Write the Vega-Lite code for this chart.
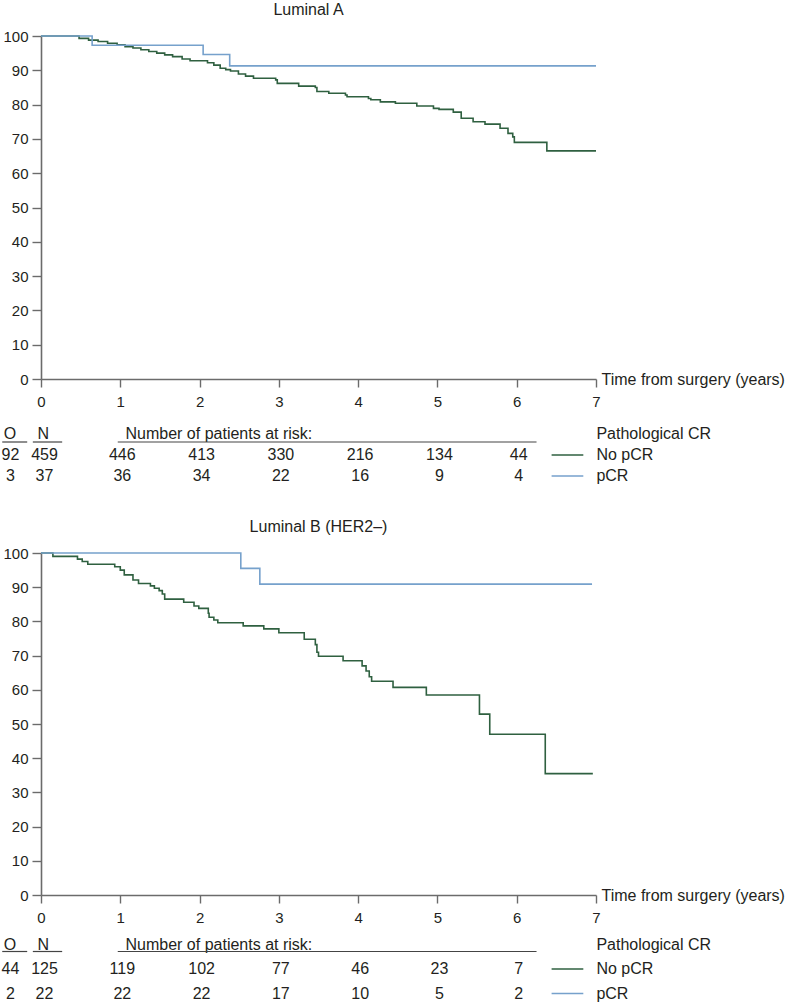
{
  "$schema": "https://vega.github.io/schema/vega-lite/v6.json",
  "padding": {"left": 1, "top": 2, "right": 0, "bottom": 0},
  "spacing": 30,
  "bounds": "flush",
  "config": {
    "view": {"stroke": null},
    "font": "Liberation Sans",
    "text": {"font": "Liberation Sans", "fontSize": 16, "color": "#231f20"},
    "axis": {
      "grid": false,
      "domainColor": "#6b6b6b",
      "domainWidth": 1.6,
      "tickColor": "#6b6b6b",
      "tickWidth": 1.4,
      "labelFont": "Liberation Sans",
      "labelFontSize": 15,
      "labelColor": "#231f20",
      "labelFlush": false,
      "titleFont": "Liberation Sans",
      "titleFontSize": 16,
      "titleFontWeight": "normal",
      "titleColor": "#231f20"
    }
  },
  "datasets": {
    "kmA": [
      {"group": "No pCR", "t": 0, "s": 100},
      {"group": "No pCR", "t": 0.48, "s": 99.3},
      {"group": "No pCR", "t": 0.60, "s": 98.8},
      {"group": "No pCR", "t": 0.72, "s": 98.4},
      {"group": "No pCR", "t": 0.84, "s": 97.9},
      {"group": "No pCR", "t": 0.96, "s": 97.4},
      {"group": "No pCR", "t": 1.06, "s": 96.9},
      {"group": "No pCR", "t": 1.16, "s": 96.5},
      {"group": "No pCR", "t": 1.26, "s": 96.0},
      {"group": "No pCR", "t": 1.36, "s": 95.5},
      {"group": "No pCR", "t": 1.46, "s": 95.0},
      {"group": "No pCR", "t": 1.56, "s": 94.5},
      {"group": "No pCR", "t": 1.66, "s": 94.0},
      {"group": "No pCR", "t": 1.78, "s": 93.3},
      {"group": "No pCR", "t": 1.88, "s": 92.8},
      {"group": "No pCR", "t": 2.10, "s": 92.2},
      {"group": "No pCR", "t": 2.18, "s": 91.5},
      {"group": "No pCR", "t": 2.26, "s": 90.6},
      {"group": "No pCR", "t": 2.33, "s": 90.2},
      {"group": "No pCR", "t": 2.39, "s": 89.8},
      {"group": "No pCR", "t": 2.49, "s": 88.9},
      {"group": "No pCR", "t": 2.58, "s": 88.3},
      {"group": "No pCR", "t": 2.68, "s": 87.7},
      {"group": "No pCR", "t": 2.96, "s": 87.2},
      {"group": "No pCR", "t": 2.98, "s": 86.2},
      {"group": "No pCR", "t": 3.25, "s": 85.4},
      {"group": "No pCR", "t": 3.46, "s": 85.0},
      {"group": "No pCR", "t": 3.48, "s": 83.8},
      {"group": "No pCR", "t": 3.63, "s": 83.3},
      {"group": "No pCR", "t": 3.84, "s": 82.8},
      {"group": "No pCR", "t": 3.86, "s": 82.3},
      {"group": "No pCR", "t": 4.13, "s": 81.8},
      {"group": "No pCR", "t": 4.16, "s": 81.4},
      {"group": "No pCR", "t": 4.28, "s": 80.8},
      {"group": "No pCR", "t": 4.47, "s": 80.4},
      {"group": "No pCR", "t": 4.74, "s": 79.6},
      {"group": "No pCR", "t": 4.95, "s": 78.9},
      {"group": "No pCR", "t": 5.02, "s": 78.6},
      {"group": "No pCR", "t": 5.20, "s": 77.8},
      {"group": "No pCR", "t": 5.30, "s": 76.0},
      {"group": "No pCR", "t": 5.45, "s": 75.0},
      {"group": "No pCR", "t": 5.60, "s": 74.3},
      {"group": "No pCR", "t": 5.79, "s": 73.1},
      {"group": "No pCR", "t": 5.89, "s": 71.6},
      {"group": "No pCR", "t": 5.95, "s": 70.6},
      {"group": "No pCR", "t": 5.97, "s": 69.0},
      {"group": "No pCR", "t": 6.38, "s": 66.5},
      {"group": "No pCR", "t": 7.0, "s": 66.5},
      {"group": "pCR", "t": 0, "s": 100},
      {"group": "pCR", "t": 0.645, "s": 97.3},
      {"group": "pCR", "t": 2.045, "s": 94.6},
      {"group": "pCR", "t": 2.38, "s": 91.3},
      {"group": "pCR", "t": 7.0, "s": 91.3}
    ],
    "kmB": [
      {"group": "No pCR", "t": 0, "s": 100},
      {"group": "No pCR", "t": 0.15, "s": 99.0},
      {"group": "No pCR", "t": 0.46, "s": 98.2},
      {"group": "No pCR", "t": 0.52, "s": 97.5},
      {"group": "No pCR", "t": 0.59, "s": 96.7},
      {"group": "No pCR", "t": 0.93, "s": 96.0},
      {"group": "No pCR", "t": 1.00, "s": 95.0},
      {"group": "No pCR", "t": 1.05, "s": 93.6},
      {"group": "No pCR", "t": 1.16, "s": 92.1},
      {"group": "No pCR", "t": 1.23, "s": 91.1},
      {"group": "No pCR", "t": 1.38, "s": 90.4},
      {"group": "No pCR", "t": 1.43, "s": 89.7},
      {"group": "No pCR", "t": 1.49, "s": 89.0},
      {"group": "No pCR", "t": 1.53, "s": 88.0},
      {"group": "No pCR", "t": 1.56, "s": 86.5},
      {"group": "No pCR", "t": 1.80, "s": 85.6},
      {"group": "No pCR", "t": 1.93, "s": 84.5},
      {"group": "No pCR", "t": 1.99, "s": 83.8},
      {"group": "No pCR", "t": 2.11, "s": 82.4},
      {"group": "No pCR", "t": 2.12, "s": 81.2},
      {"group": "No pCR", "t": 2.18, "s": 80.4},
      {"group": "No pCR", "t": 2.23, "s": 79.6},
      {"group": "No pCR", "t": 2.55, "s": 78.7},
      {"group": "No pCR", "t": 2.81, "s": 77.8},
      {"group": "No pCR", "t": 3.00, "s": 76.7},
      {"group": "No pCR", "t": 3.32, "s": 74.8},
      {"group": "No pCR", "t": 3.46, "s": 73.2},
      {"group": "No pCR", "t": 3.48, "s": 71.0},
      {"group": "No pCR", "t": 3.50, "s": 69.8},
      {"group": "No pCR", "t": 3.81, "s": 68.5},
      {"group": "No pCR", "t": 4.05, "s": 67.0},
      {"group": "No pCR", "t": 4.10, "s": 65.5},
      {"group": "No pCR", "t": 4.14, "s": 63.8},
      {"group": "No pCR", "t": 4.17, "s": 62.5},
      {"group": "No pCR", "t": 4.44, "s": 60.7},
      {"group": "No pCR", "t": 4.86, "s": 58.5},
      {"group": "No pCR", "t": 5.53, "s": 52.9},
      {"group": "No pCR", "t": 5.66, "s": 47.0},
      {"group": "No pCR", "t": 6.36, "s": 35.5},
      {"group": "No pCR", "t": 6.96, "s": 35.5},
      {"group": "pCR", "t": 0, "s": 100},
      {"group": "pCR", "t": 2.52, "s": 95.5},
      {"group": "pCR", "t": 2.76, "s": 90.9},
      {"group": "pCR", "t": 6.95, "s": 90.9}
    ],
    "sumA": [
      {"group": "No pCR", "O": 92, "N": 459},
      {"group": "pCR", "O": 3, "N": 37}
    ],
    "sumB": [
      {"group": "No pCR", "O": 44, "N": 125},
      {"group": "pCR", "O": 2, "N": 22}
    ],
    "riskA": [
      {"group": "No pCR", "time": 1, "n": 446},
      {"group": "No pCR", "time": 2, "n": 413},
      {"group": "No pCR", "time": 3, "n": 330},
      {"group": "No pCR", "time": 4, "n": 216},
      {"group": "No pCR", "time": 5, "n": 134},
      {"group": "No pCR", "time": 6, "n": 44},
      {"group": "pCR", "time": 1, "n": 36},
      {"group": "pCR", "time": 2, "n": 34},
      {"group": "pCR", "time": 3, "n": 22},
      {"group": "pCR", "time": 4, "n": 16},
      {"group": "pCR", "time": 5, "n": 9},
      {"group": "pCR", "time": 6, "n": 4}
    ],
    "riskB": [
      {"group": "No pCR", "time": 1, "n": 119},
      {"group": "No pCR", "time": 2, "n": 102},
      {"group": "No pCR", "time": 3, "n": 77},
      {"group": "No pCR", "time": 4, "n": 46},
      {"group": "No pCR", "time": 5, "n": 23},
      {"group": "No pCR", "time": 6, "n": 7},
      {"group": "pCR", "time": 1, "n": 22},
      {"group": "pCR", "time": 2, "n": 22},
      {"group": "pCR", "time": 3, "n": 17},
      {"group": "pCR", "time": 4, "n": 10},
      {"group": "pCR", "time": 5, "n": 5},
      {"group": "pCR", "time": 6, "n": 2}
    ]
  },
  "vconcat": [
    {
      "title": {"text": "Luminal A", "fontSize": 16, "fontWeight": "normal", "font": "Liberation Sans", "color": "#231f20", "frame": "group", "offset": -2, "baseline": "alphabetic", "dx": -10},
      "width": 555,
      "height": 343,
      "data": {"name": "kmA"},
      "mark": {"type": "line", "interpolate": "step-after", "strokeWidth": 1.6},
      "encoding": {
        "x": {"field": "t", "type": "quantitative", "scale": {"domain": [0, 7], "nice": false, "zero": false},
              "axis": {"values": [0, 1, 2, 3, 4, 5, 6, 7], "tickSize": 8, "labelPadding": 7, "title": "Time from surgery (years)", "titleX": 560, "titleY": 0, "titleAlign": "left", "titleBaseline": "middle", "titleAngle": 0}},
        "y": {"field": "s", "type": "quantitative", "scale": {"domain": [0, 100], "nice": false},
              "axis": {"values": [0, 10, 20, 30, 40, 50, 60, 70, 80, 90, 100], "tickSize": 9, "labelPadding": 4, "title": null}},
        "color": {"field": "group", "type": "nominal", "scale": {"domain": ["No pCR", "pCR"], "range": ["#2f6040", "#76a1cc"]}, "legend": null}
      }
    },
    {
      "width": 555,
      "height": 114,
      "layer": [
        {"data": {"name": "sumA"}, "mark": {"type": "text"},
         "encoding": {"x": {"datum": -0.385, "type": "quantitative", "scale": {"domain": [0, 7], "nice": false, "zero": false}, "axis": null},
                      "y": {"field": "group", "type": "nominal", "scale": {"type": "point", "domain": ["hdr", "No pCR", "pCR"], "range": [25, 67], "padding": 0}, "axis": null},
                      "text": {"field": "O"}}},
        {"data": {"name": "sumA"}, "mark": {"type": "text"},
         "encoding": {"x": {"datum": 0.044, "type": "quantitative", "axis": null},
                      "y": {"field": "group", "type": "nominal", "axis": null},
                      "text": {"field": "N"}}},
        {"data": {"name": "riskA"}, "mark": {"type": "text", "dx": 2},
         "encoding": {"x": {"field": "time", "type": "quantitative", "axis": null},
                      "y": {"field": "group", "type": "nominal", "axis": null},
                      "text": {"field": "n"}}},
        {"data": {"values": [{"label": "O"}]}, "mark": {"type": "text"},
         "encoding": {"x": {"datum": -0.39, "type": "quantitative", "axis": null},
                      "y": {"datum": "hdr", "type": "nominal", "axis": null},
                      "text": {"field": "label"}}},
        {"data": {"values": [{"label": "N"}]}, "mark": {"type": "text"},
         "encoding": {"x": {"datum": 0.03, "type": "quantitative", "axis": null},
                      "y": {"datum": "hdr", "type": "nominal", "axis": null},
                      "text": {"field": "label"}}},
        {"data": {"values": [{"label": "Number of patients at risk:"}]}, "mark": {"type": "text", "align": "left"},
         "encoding": {"x": {"datum": 1.066, "type": "quantitative", "axis": null},
                      "y": {"datum": "hdr", "type": "nominal", "axis": null},
                      "text": {"field": "label"}}},
        {"data": {"values": [{"label": "Pathological CR"}]}, "mark": {"type": "text", "align": "left"},
         "encoding": {"x": {"datum": 7.005, "type": "quantitative", "axis": null},
                      "y": {"datum": "hdr", "type": "nominal", "axis": null},
                      "text": {"field": "label"}}},
        {"data": {"values": [{"label": "O"}]}, "mark": {"type": "rule", "yOffset": 8, "strokeWidth": 1.2, "color": "#444444"},
         "encoding": {"x": {"datum": -0.489, "type": "quantitative", "axis": null}, "x2": {"datum": -0.174},
                      "y": {"datum": "hdr", "type": "nominal", "axis": null}}},
        {"data": {"values": [{"label": "N"}]}, "mark": {"type": "rule", "yOffset": 8, "strokeWidth": 1.2, "color": "#444444"},
         "encoding": {"x": {"datum": -0.103, "type": "quantitative", "axis": null}, "x2": {"datum": 0.267},
                      "y": {"datum": "hdr", "type": "nominal", "axis": null}}},
        {"data": {"values": [{"label": "risk"}]}, "mark": {"type": "rule", "yOffset": 8, "strokeWidth": 1.2, "color": "#444444"},
         "encoding": {"x": {"datum": 0.968, "type": "quantitative", "axis": null}, "x2": {"datum": 6.25},
                      "y": {"datum": "hdr", "type": "nominal", "axis": null}}},
        {"data": {"name": "sumA"}, "mark": {"type": "rule", "strokeWidth": 1.6},
         "encoding": {"x": {"datum": 6.44, "type": "quantitative", "axis": null}, "x2": {"datum": 6.84},
                      "y": {"field": "group", "type": "nominal", "axis": null},
                      "color": {"field": "group", "type": "nominal", "legend": null}}},
        {"data": {"name": "sumA"}, "mark": {"type": "text", "align": "left"},
         "encoding": {"x": {"datum": 7.005, "type": "quantitative", "axis": null},
                      "y": {"field": "group", "type": "nominal", "axis": null},
                      "text": {"field": "group"}}}
      ]
    },
    {
      "title": {"text": "Luminal B (HER2–)", "fontSize": 16, "fontWeight": "normal", "font": "Liberation Sans", "color": "#231f20", "frame": "group", "offset": -2, "baseline": "alphabetic"},
      "width": 555,
      "height": 342,
      "data": {"name": "kmB"},
      "mark": {"type": "line", "interpolate": "step-after", "strokeWidth": 1.6},
      "encoding": {
        "x": {"field": "t", "type": "quantitative", "scale": {"domain": [0, 7], "nice": false, "zero": false},
              "axis": {"values": [0, 1, 2, 3, 4, 5, 6, 7], "tickSize": 8, "labelPadding": 7, "title": "Time from surgery (years)", "titleX": 560, "titleY": 0, "titleAlign": "left", "titleBaseline": "middle", "titleAngle": 0}},
        "y": {"field": "s", "type": "quantitative", "scale": {"domain": [0, 100], "nice": false},
              "axis": {"values": [0, 10, 20, 30, 40, 50, 60, 70, 80, 90, 100], "tickSize": 9, "labelPadding": 4, "title": null}},
        "color": {"field": "group", "type": "nominal", "legend": null}
      }
    },
    {
      "width": 555,
      "height": 75,
      "layer": [
        {"data": {"name": "sumB"}, "mark": {"type": "text"},
         "encoding": {"x": {"datum": -0.385, "type": "quantitative", "scale": {"domain": [0, 7], "nice": false, "zero": false}, "axis": null},
                      "y": {"field": "group", "type": "nominal", "scale": {"type": "point", "domain": ["hdr", "No pCR", "pCR"], "range": [19.5, 68.5], "padding": 0}, "axis": null},
                      "text": {"field": "O"}}},
        {"data": {"name": "sumB"}, "mark": {"type": "text"},
         "encoding": {"x": {"datum": 0.044, "type": "quantitative", "axis": null},
                      "y": {"field": "group", "type": "nominal", "axis": null},
                      "text": {"field": "N"}}},
        {"data": {"name": "riskB"}, "mark": {"type": "text", "dx": 2},
         "encoding": {"x": {"field": "time", "type": "quantitative", "axis": null},
                      "y": {"field": "group", "type": "nominal", "axis": null},
                      "text": {"field": "n"}}},
        {"data": {"values": [{"label": "O"}]}, "mark": {"type": "text"},
         "encoding": {"x": {"datum": -0.39, "type": "quantitative", "axis": null},
                      "y": {"datum": "hdr", "type": "nominal", "axis": null},
                      "text": {"field": "label"}}},
        {"data": {"values": [{"label": "N"}]}, "mark": {"type": "text"},
         "encoding": {"x": {"datum": 0.03, "type": "quantitative", "axis": null},
                      "y": {"datum": "hdr", "type": "nominal", "axis": null},
                      "text": {"field": "label"}}},
        {"data": {"values": [{"label": "Number of patients at risk:"}]}, "mark": {"type": "text", "align": "left"},
         "encoding": {"x": {"datum": 1.066, "type": "quantitative", "axis": null},
                      "y": {"datum": "hdr", "type": "nominal", "axis": null},
                      "text": {"field": "label"}}},
        {"data": {"values": [{"label": "Pathological CR"}]}, "mark": {"type": "text", "align": "left"},
         "encoding": {"x": {"datum": 7.005, "type": "quantitative", "axis": null},
                      "y": {"datum": "hdr", "type": "nominal", "axis": null},
                      "text": {"field": "label"}}},
        {"data": {"values": [{"label": "O"}]}, "mark": {"type": "rule", "yOffset": 7, "strokeWidth": 1.2, "color": "#444444"},
         "encoding": {"x": {"datum": -0.489, "type": "quantitative", "axis": null}, "x2": {"datum": -0.174},
                      "y": {"datum": "hdr", "type": "nominal", "axis": null}}},
        {"data": {"values": [{"label": "N"}]}, "mark": {"type": "rule", "yOffset": 7, "strokeWidth": 1.2, "color": "#444444"},
         "encoding": {"x": {"datum": -0.103, "type": "quantitative", "axis": null}, "x2": {"datum": 0.267},
                      "y": {"datum": "hdr", "type": "nominal", "axis": null}}},
        {"data": {"values": [{"label": "risk"}]}, "mark": {"type": "rule", "yOffset": 7, "strokeWidth": 1.2, "color": "#444444"},
         "encoding": {"x": {"datum": 0.968, "type": "quantitative", "axis": null}, "x2": {"datum": 6.25},
                      "y": {"datum": "hdr", "type": "nominal", "axis": null}}},
        {"data": {"name": "sumB"}, "mark": {"type": "rule", "strokeWidth": 1.6},
         "encoding": {"x": {"datum": 6.44, "type": "quantitative", "axis": null}, "x2": {"datum": 6.84},
                      "y": {"field": "group", "type": "nominal", "axis": null},
                      "color": {"field": "group", "type": "nominal", "legend": null}}},
        {"data": {"name": "sumB"}, "mark": {"type": "text", "align": "left"},
         "encoding": {"x": {"datum": 7.005, "type": "quantitative", "axis": null},
                      "y": {"field": "group", "type": "nominal", "axis": null},
                      "text": {"field": "group"}}}
      ]
    }
  ]
}
